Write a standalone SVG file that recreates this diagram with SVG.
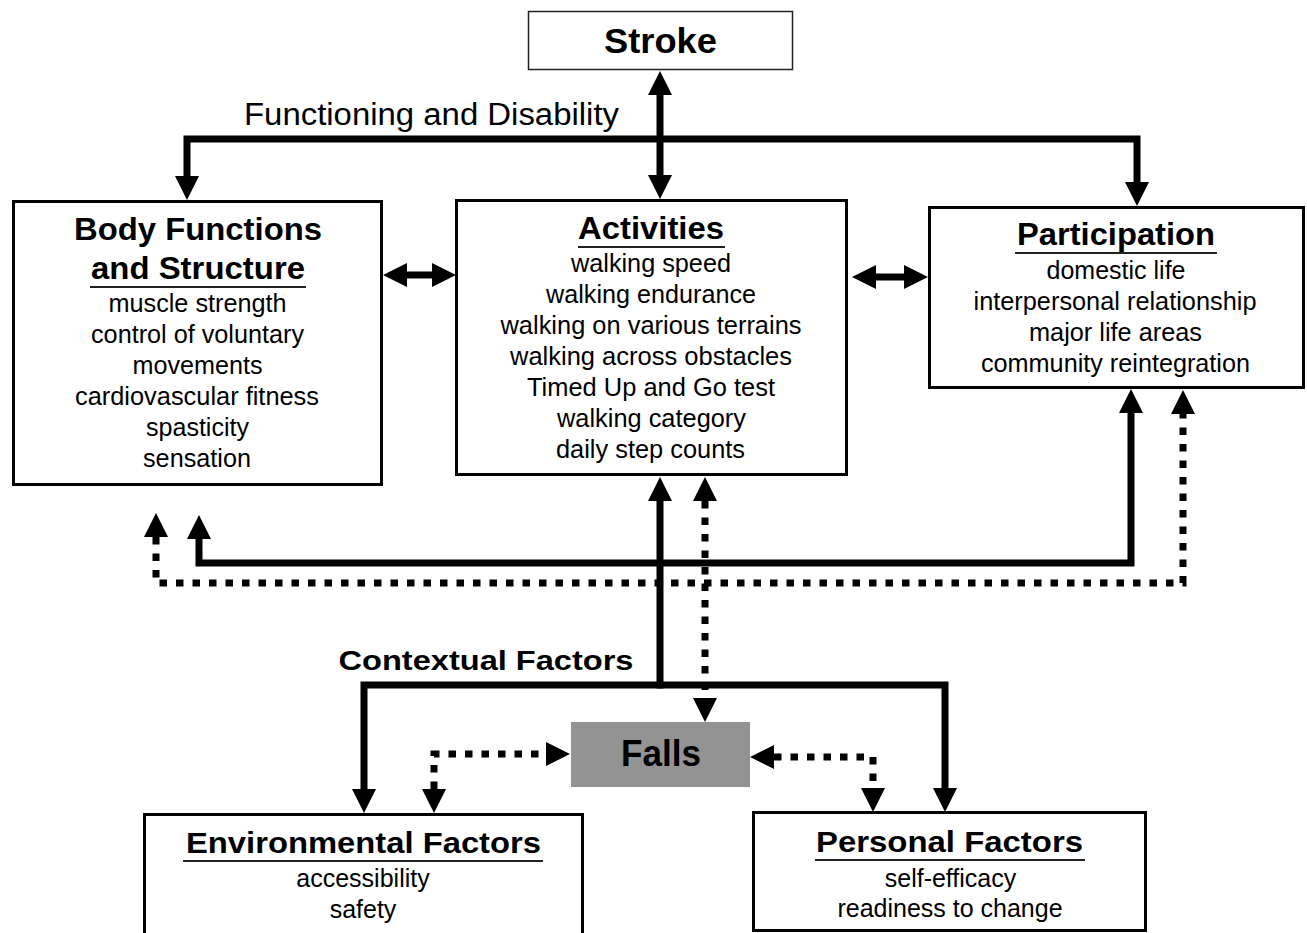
<svg xmlns="http://www.w3.org/2000/svg" width="1307" height="933" viewBox="0 0 1307 933">
<style>
.box{fill:#fff;stroke:#000;stroke-width:3}
.thin{fill:#fff;stroke:#222;stroke-width:1.5}
.t{font-family:"Liberation Sans",Arial,Helvetica,sans-serif;fill:#000;text-anchor:middle}
.b{font-weight:bold}
.h{font-size:32px}
.i{font-size:25px}
.ul{stroke:#222;stroke-width:2}
.solid{fill:none;stroke:#000;stroke-width:7;stroke-linejoin:miter}
.dot{fill:none;stroke:#000;stroke-width:7;stroke-dasharray:7.5 9;stroke-linejoin:miter}
</style>
<defs>
<marker id="ah" viewBox="0 -12 24 24" markerWidth="24" markerHeight="24" refX="0" refY="0" orient="auto-start-reverse" markerUnits="userSpaceOnUse">
<path d="M0,-12 L24,0 L0,12 Z" fill="#000"/>
</marker>
</defs>
<rect width="1307" height="933" fill="#fff"/>

<g id="connectors">
<path class="solid" d="M660,95 V175" marker-start="url(#ah)" marker-end="url(#ah)"/>
<path class="solid" d="M187,176 V139 H1137 V182" marker-start="url(#ah)" marker-end="url(#ah)"/>
<path class="solid" d="M407,275 H432" marker-start="url(#ah)" marker-end="url(#ah)"/>
<path class="solid" d="M876,277 H904" marker-start="url(#ah)" marker-end="url(#ah)"/>
<path class="solid" d="M660,688.5 V501" marker-end="url(#ah)"/>
<path class="solid" d="M364,789 V685 H945 V788" marker-start="url(#ah)" marker-end="url(#ah)"/>
<path class="solid" d="M199,539 V563 H1131 V413" marker-start="url(#ah)" marker-end="url(#ah)"/>
<path class="dot" d="M156,537 V583 H1183 V414" marker-start="url(#ah)" marker-end="url(#ah)"/>
<path class="dot" d="M705,501 V698" marker-start="url(#ah)" marker-end="url(#ah)"/>
<path class="dot" d="M434,789 V754 H546" marker-start="url(#ah)" marker-end="url(#ah)"/>
<path class="dot" d="M774,757 H873 V788" marker-start="url(#ah)" marker-end="url(#ah)"/>
</g>

<text class="t" x="431.5" y="125" font-size="31" textLength="375" lengthAdjust="spacingAndGlyphs">Functioning and Disability</text>
<text class="t b" x="486" y="670" font-size="28" textLength="295" lengthAdjust="spacingAndGlyphs">Contextual Factors</text>

<g id="stroke">
<rect class="thin" x="528.5" y="11.5" width="264" height="58"/>
<text class="t b" x="660.5" y="53" font-size="35" textLength="113" lengthAdjust="spacingAndGlyphs">Stroke</text>
</g>

<g id="body">
<rect class="box" x="13.5" y="201.5" width="368" height="283"/>
<text class="t b h" x="198" y="240" textLength="248" lengthAdjust="spacingAndGlyphs">Body Functions</text>
<text class="t b h" x="198" y="279" textLength="214" lengthAdjust="spacingAndGlyphs">and Structure</text>
<line class="ul" x1="90" y1="287" x2="306" y2="287"/>
<text class="t i" x="197.5" y="312" textLength="178" lengthAdjust="spacingAndGlyphs">muscle strength</text>
<text class="t i" x="197.5" y="343" textLength="213" lengthAdjust="spacingAndGlyphs">control of voluntary</text>
<text class="t i" x="197.5" y="374" textLength="130" lengthAdjust="spacingAndGlyphs">movements</text>
<text class="t i" x="197" y="405" textLength="244" lengthAdjust="spacingAndGlyphs">cardiovascular fitness</text>
<text class="t i" x="197.5" y="436" textLength="103" lengthAdjust="spacingAndGlyphs">spasticity</text>
<text class="t i" x="197" y="467" textLength="108" lengthAdjust="spacingAndGlyphs">sensation</text>
</g>

<g id="activities">
<rect class="box" x="456.5" y="200.5" width="390" height="274"/>
<text class="t b h" x="651" y="239" textLength="146" lengthAdjust="spacingAndGlyphs">Activities</text>
<line class="ul" x1="578" y1="247" x2="725" y2="247"/>
<text class="t i" x="651" y="272" textLength="160" lengthAdjust="spacingAndGlyphs">walking speed</text>
<text class="t i" x="651" y="303" textLength="210" lengthAdjust="spacingAndGlyphs">walking endurance</text>
<text class="t i" x="651" y="334" textLength="301" lengthAdjust="spacingAndGlyphs">walking on various terrains</text>
<text class="t i" x="651" y="365" textLength="282" lengthAdjust="spacingAndGlyphs">walking across obstacles</text>
<text class="t i" x="651" y="396" textLength="248" lengthAdjust="spacingAndGlyphs">Timed Up and Go test</text>
<text class="t i" x="651.5" y="427" textLength="189" lengthAdjust="spacingAndGlyphs">walking category</text>
<text class="t i" x="650.5" y="458" textLength="189" lengthAdjust="spacingAndGlyphs">daily step counts</text>
</g>

<g id="participation">
<rect class="box" x="929.5" y="207.5" width="374" height="180"/>
<text class="t b h" x="1116" y="245" textLength="198" lengthAdjust="spacingAndGlyphs">Participation</text>
<line class="ul" x1="1015" y1="253" x2="1217" y2="253"/>
<text class="t i" x="1116" y="279" textLength="139" lengthAdjust="spacingAndGlyphs">domestic life</text>
<text class="t i" x="1115" y="310" textLength="283" lengthAdjust="spacingAndGlyphs">interpersonal relationship</text>
<text class="t i" x="1115.5" y="341" textLength="173" lengthAdjust="spacingAndGlyphs">major life areas</text>
<text class="t i" x="1115.5" y="372" textLength="269" lengthAdjust="spacingAndGlyphs">community reintegration</text>
</g>

<g id="falls">
<rect x="571" y="722" width="179" height="65" fill="#939393"/>
<text class="t b" x="661" y="766" font-size="36" textLength="80" lengthAdjust="spacingAndGlyphs">Falls</text>
</g>

<g id="environmental">
<rect class="box" x="144.5" y="814.5" width="438" height="130"/>
<text class="t b" x="363.5" y="853" font-size="30" textLength="355" lengthAdjust="spacingAndGlyphs">Environmental Factors</text>
<line class="ul" x1="183" y1="861" x2="543" y2="861"/>
<text class="t i" x="363" y="887">accessibility</text>
<text class="t i" x="363" y="918">safety</text>
</g>

<g id="personal">
<rect class="box" x="753.5" y="812.5" width="392" height="118"/>
<text class="t b" x="949.5" y="852" font-size="30" textLength="267" lengthAdjust="spacingAndGlyphs">Personal Factors</text>
<line class="ul" x1="815" y1="860" x2="1085" y2="860"/>
<text class="t i" x="950.5" y="887">self-efficacy</text>
<text class="t i" x="950" y="917">readiness to change</text>
</g>
</svg>
